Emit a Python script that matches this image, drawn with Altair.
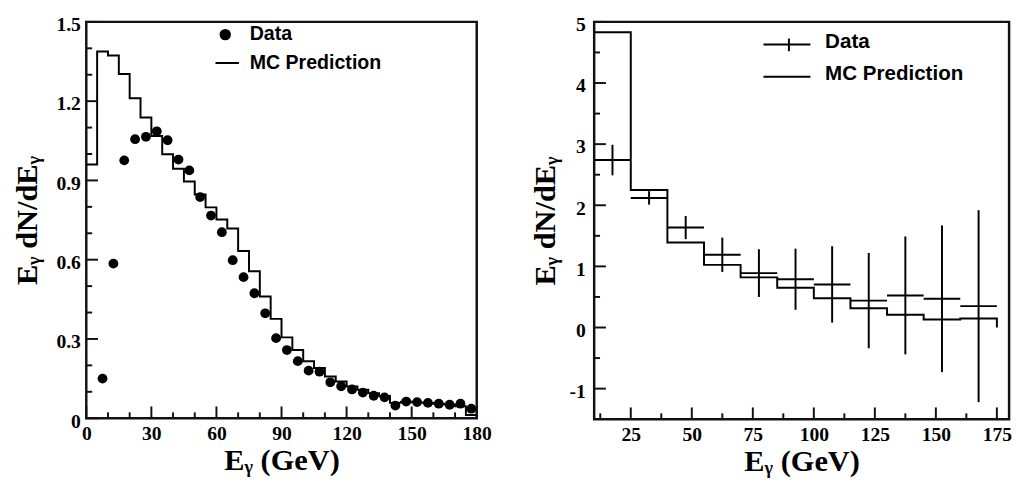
import altair as alt
import pandas as pd

# ---------------- left panel data ----------------
left_data_x = [7.5, 12.5, 17.5, 22.5, 27.5, 32.5, 37.5, 42.5, 47.5, 52.5, 57.5, 62.5,
               67.5, 72.5, 77.5, 82.5, 87.5, 92.5, 97.5, 102.5, 107.5, 112.5, 117.5,
               122.5, 127.5, 132.5, 137.5, 142.5, 147.5, 152.5, 157.5, 162.5, 167.5,
               172.5, 177.5]
left_data_y = [0.150, 0.585, 0.976, 1.056, 1.065, 1.086, 1.052, 0.979, 0.938, 0.837,
               0.767, 0.704, 0.598, 0.534, 0.473, 0.397, 0.303, 0.258, 0.216, 0.180,
               0.176, 0.136, 0.121, 0.109, 0.097, 0.085, 0.079, 0.048, 0.063, 0.061,
               0.058, 0.055, 0.051, 0.055, 0.036]
left_mc_edges = [0, 5, 10, 15, 20, 25, 30, 35, 40, 45, 50, 55, 60, 65, 70, 75, 80, 85,
                 90, 95, 100, 105, 110, 115, 120, 125, 130, 135, 140, 145, 150, 155,
                 160, 165, 170, 175, 180]
left_mc_y = [0.960, 1.388, 1.373, 1.303, 1.211, 1.138, 1.068, 0.999, 0.944, 0.896,
             0.847, 0.798, 0.752, 0.718, 0.633, 0.556, 0.461, 0.376, 0.306, 0.258,
             0.216, 0.190, 0.158, 0.139, 0.120, 0.108, 0.095, 0.084, 0.058, 0.062,
             0.060, 0.058, 0.055, 0.052, 0.045, 0.012, 0.012]
left_x_major = [0, 30, 60, 90, 120, 150, 180]
left_x_minor = [10, 20, 40, 50, 70, 80, 100, 110, 130, 140, 160, 170]
left_y_major = [0, 0.3, 0.6, 0.9, 1.2, 1.5]
left_y_minor = [0.1, 0.2, 0.4, 0.5, 0.7, 0.8, 1.0, 1.1, 1.3, 1.4]

# ---------------- right panel data ----------------
right_data_x = [17.5, 32.5, 47.5, 62.5, 77.5, 92.5, 107.5, 122.5, 137.5, 152.5, 167.5]
right_data_lo = [10, 25, 40, 55, 70, 85, 100, 115, 130, 145, 160]
right_data_hi = [25, 40, 55, 70, 85, 100, 115, 130, 145, 160, 175]
right_data_y = [2.74, 2.12, 1.635, 1.19, 0.89, 0.79, 0.705, 0.44, 0.525, 0.47, 0.35]
right_data_err = [0.25, 0.11, 0.19, 0.28, 0.39, 0.50, 0.625, 0.78, 0.965, 1.20, 1.57]
right_mc_edges = [10, 25, 40, 55, 70, 85, 100, 115, 130, 145, 160, 175]
right_mc_y = [4.83, 2.25, 1.39, 1.025, 0.82, 0.65, 0.48, 0.315, 0.21, 0.13, 0.147, 0.0]
right_x_major = [25, 50, 75, 100, 125, 150, 175]
right_x_minor = [12.5, 37.5, 62.5, 87.5, 112.5, 137.5, 162.5]
right_y_major = [-1, 0, 1, 2, 3, 4, 5]
right_y_minor = [-0.5, 0.5, 1.5, 2.5, 3.5, 4.5]

legend_labels = ["Data", "MC Prediction"]
x_title = "Eᵧ (GeV)"
y_title = "Eᵧ dN/dEᵧ"

SERIF = "Liberation Serif"
SANS = "Liberation Sans"
INK = "#111111"


def make_axis(values, title, label_pad, title_pad, orient, label_offset=0):
    return alt.Axis(values=values, title=title, tickSize=0, domain=False, grid=False,
                    labelFont=SERIF, labelFontSize=20, labelFontWeight="bold",
                    labelColor="black", labelPadding=label_pad, labelOffset=label_offset,
                    labelFlush=False, labelExpr="datum.value + ''",
                    titleFont=SERIF, titleFontSize=31, titleFontWeight="bold",
                    titleColor="black", titlePadding=title_pad, orient=orient)


base_dummy = pd.DataFrame({"k": [0]})


def xticks(vals, xs, xa, H, L):
    return alt.Chart(pd.DataFrame({"E": vals})).mark_rule(
        color=INK, strokeWidth=2).encode(
        x=alt.X("E:Q", scale=xs, axis=xa), y=alt.value(H), y2=alt.value(H - L))


def yticks(vals, ys, ya, L):
    return alt.Chart(pd.DataFrame({"v": vals})).mark_rule(
        color=INK, strokeWidth=2).encode(
        y=alt.Y("v:Q", scale=ys, axis=ya), x=alt.value(0), x2=alt.value(L))


def legend_text(label, x, y, size):
    return alt.Chart(base_dummy).mark_text(
        font=SANS, fontSize=size, fontWeight="bold", color="black",
        align="left", baseline="middle").encode(
        x=alt.value(x), y=alt.value(y), text=alt.value(label))


# ---------------- left panel ----------------
W1, H1 = 399, 405
xs1 = alt.Scale(domain=[0, 180], nice=False, zero=False)
ys1 = alt.Scale(domain=[0, 1.5], nice=False, zero=False)
xa1 = make_axis(left_x_major, x_title, 6, 2, "bottom")
ya1 = make_axis(left_y_major, y_title, 6, 13, "left", 3)

df_mc1 = pd.DataFrame({"E": left_mc_edges, "v": left_mc_y})
df_pt1 = pd.DataFrame({"E": left_data_x, "v": left_data_y})

mc1 = alt.Chart(df_mc1).mark_line(interpolate="step-after", color="black",
                                  strokeWidth=2).encode(
    x=alt.X("E:Q", scale=xs1, axis=xa1), y=alt.Y("v:Q", scale=ys1, axis=ya1))
pt1 = alt.Chart(df_pt1).mark_circle(size=100, color="black", opacity=1).encode(
    x=alt.X("E:Q", scale=xs1, axis=xa1), y=alt.Y("v:Q", scale=ys1, axis=ya1))

leg1_circle = alt.Chart(base_dummy).mark_point(
    shape="circle", filled=True, color="black", size=135, opacity=1).encode(
    x=alt.value(142), y=alt.value(13))
leg1_line = alt.Chart(base_dummy).mark_rule(color="black", strokeWidth=2).encode(
    x=alt.value(132), x2=alt.value(156), y=alt.value(42))

left = alt.layer(
    mc1, pt1,
    xticks(left_x_major, xs1, xa1, H1, 12), xticks(left_x_minor, xs1, xa1, H1, 6),
    yticks(left_y_major, ys1, ya1, 12), yticks(left_y_minor, ys1, ya1, 6),
    leg1_circle, leg1_line,
    legend_text(legend_labels[0], 167, 13, 20),
    legend_text(legend_labels[1], 167, 42, 20),
).properties(width=W1, height=H1)

# ---------------- right panel ----------------
W2, H2 = 424, 406
xs2 = alt.Scale(domain=[10, 180], nice=False, zero=False)
ys2 = alt.Scale(domain=[-1.5, 5], nice=False, zero=False)
xa2 = make_axis(right_x_major, x_title, 6, 2, "bottom")
ya2 = make_axis(right_y_major, y_title, 9, 8, "left", 3)

df_mc2 = pd.DataFrame({"E": right_mc_edges, "v": right_mc_y})
df_d2 = pd.DataFrame({"E": right_data_x, "lo": right_data_lo, "hi": right_data_hi,
                      "v": right_data_y, "err": right_data_err})

mc2 = alt.Chart(df_mc2).mark_line(interpolate="step-after", color="black",
                                  strokeWidth=2).encode(
    x=alt.X("E:Q", scale=xs2, axis=xa2), y=alt.Y("v:Q", scale=ys2, axis=ya2))
hbar2 = alt.Chart(df_d2).mark_rule(color="black", strokeWidth=2).encode(
    x=alt.X("lo:Q", scale=xs2, axis=xa2), x2="hi:Q",
    y=alt.Y("v:Q", scale=ys2, axis=ya2))
vbar2 = alt.Chart(df_d2).transform_calculate(
    vlo="datum.v - datum.err", vhi="datum.v + datum.err").mark_rule(
    color="black", strokeWidth=2).encode(
    x=alt.X("E:Q", scale=xs2, axis=xa2),
    y=alt.Y("vlo:Q", scale=ys2, axis=ya2), y2="vhi:Q")

leg2_line_a = alt.Chart(base_dummy).mark_rule(color="black", strokeWidth=2).encode(
    x=alt.value(173), x2=alt.value(221), y=alt.value(23))
leg2_tick = alt.Chart(base_dummy).mark_rule(color="black", strokeWidth=2).encode(
    x=alt.value(199), y=alt.value(17), y2=alt.value(30))
leg2_line_b = alt.Chart(base_dummy).mark_rule(color="black", strokeWidth=2).encode(
    x=alt.value(173), x2=alt.value(221), y=alt.value(56))

right = alt.layer(
    mc2, hbar2, vbar2,
    xticks(right_x_major, xs2, xa2, H2, 12), xticks(right_x_minor, xs2, xa2, H2, 6),
    yticks(right_y_major, ys2, ya2, 12), yticks(right_y_minor, ys2, ya2, 6),
    leg2_line_a, leg2_tick, leg2_line_b,
    legend_text(legend_labels[0], 236, 21, 21),
    legend_text(legend_labels[1], 236, 53, 21),
).properties(width=W2, height=H2)

chart = alt.hconcat(left, right, spacing=36).configure_view(
    stroke=INK, strokeWidth=2.5).properties(
    padding={"left": 2, "top": 0, "right": 0, "bottom": 0},
    background="white")

chart.save("out.html", embed_options={"renderer": "svg", "actions": False})
